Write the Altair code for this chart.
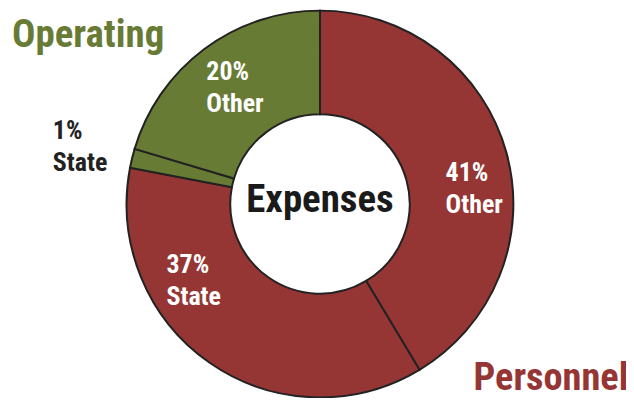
import altair as alt
import pandas as pd

# Data (clockwise from 12 o'clock)
segments = ["Personnel Other", "Personnel State", "Operating State", "Operating Other"]
values = [41.4, 36.6, 1.6, 20.4]
pct_labels = ["41%", "37%", "1%", "20%"]
sub_labels = ["Other", "State", "State", "Other"]
groups = ["Personnel", "Personnel", "Operating", "Operating"]

RED = "#963634"
GREEN = "#687B35"
FONT = "Roboto Condensed, Arial Narrow, Liberation Sans Narrow, DejaVu Sans Condensed, sans-serif"

df = pd.DataFrame({
    "segment": segments,
    "value": values,
    "group": groups,
    "idx": list(range(len(segments))),
})

CX, CY = 313, 196

arcs = alt.Chart(df).mark_arc(
    innerRadius=90, outerRadius=194, stroke="#222222", strokeWidth=2
).encode(
    theta=alt.Theta("value:Q", stack=True),
    color=alt.Color("group:N", scale=alt.Scale(domain=["Personnel", "Operating"], range=[RED, GREEN]), legend=None),
    order=alt.Order("idx:Q"),
    x=alt.value(CX),
    y=alt.value(CY),
)

# label placement (chart coords: first-line baseline, left edge)
label_pos = [(439, 173, "white"), (159, 265, "white"), (45, 131, "#222222"), (199, 72, "white")]

layers = [arcs]
for (pct, sub, (lx, ly, col)) in zip(pct_labels, sub_labels, label_pos):
    layers.append(
        alt.Chart(pd.DataFrame({"t": [pct + "\n" + sub]})).mark_text(
            align="left", baseline="alphabetic", font=FONT, fontWeight="bold",
            fontSize=26, lineBreak="\n", lineHeight=32, color=col
        ).encode(text="t:N", x=alt.value(lx), y=alt.value(ly))
    )

titles = [("Operating", 4, 38, GREEN, "left", 39), ("Personnel", 467, 383, RED, "left", 38.5),
          ("Expenses", CX, 204, "#1a1a1a", "center", 39)]
for (t, tx, ty, col, al, fs) in titles:
    layers.append(
        alt.Chart(pd.DataFrame({"t": [t]})).mark_text(
            align=al, baseline="alphabetic", font=FONT, fontWeight="bold",
            fontSize=fs, color=col
        ).encode(text="t:N", x=alt.value(tx), y=alt.value(ty))
    )

chart = alt.layer(*layers).properties(
    width=620, height=390, autosize="none", padding=0
).configure_view(stroke=None)

chart.save("out.html", embed_options={"renderer": "svg", "actions": False})
